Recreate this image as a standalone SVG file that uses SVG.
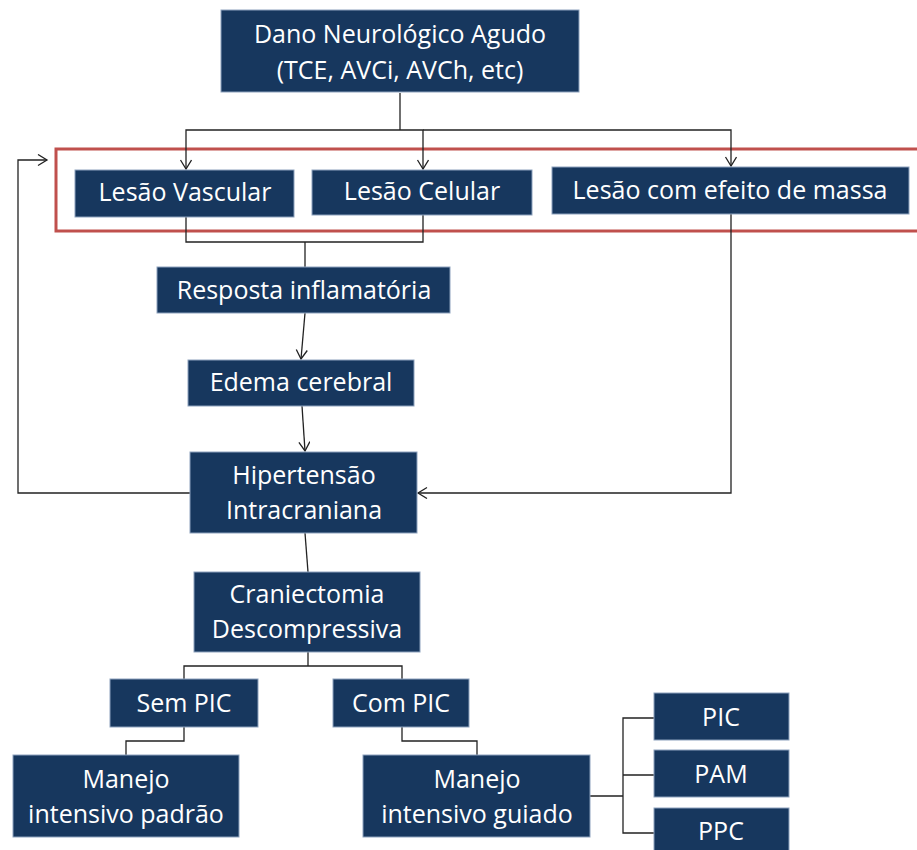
<svg xmlns="http://www.w3.org/2000/svg" width="917" height="850" viewBox="0 0 917 850">
<style>
.box{fill:#17375e;stroke:#8da2bd;stroke-width:1}
.t{font-family:"Open Sans","Liberation Sans",sans-serif;font-size:25px;fill:#ffffff;text-anchor:middle}
.c{fill:none;stroke:#222;stroke-width:1.3}
</style>
<defs>
<marker id="a" markerUnits="userSpaceOnUse" markerWidth="14" markerHeight="14" refX="10" refY="6" orient="auto">
<path d="M1,0.5 L10,6 L1,11.5" fill="none" stroke="#222" stroke-width="1.3"/>
</marker>
</defs>
<rect x="56" y="149" width="870" height="82" fill="none" stroke="#c0504d" stroke-width="3"/>
<g id="connectors">
<path class="c" d="M400,93 V130"/>
<path class="c" d="M400,130 H186 V169" marker-end="url(#a)"/>
<path class="c" d="M400,130 H423 V169" marker-end="url(#a)"/>
<path class="c" d="M423,130 H731 V166" marker-end="url(#a)"/>
<path class="c" d="M186,217 V242 H423 V215"/>
<path class="c" d="M305,242 V267"/>
<path class="c" d="M305,313 L301,359" marker-end="url(#a)"/>
<path class="c" d="M302,406 L305,451" marker-end="url(#a)"/>
<path class="c" d="M190,493 H18 V160 H47" marker-end="url(#a)"/>
<path class="c" d="M731,214 V493 H418" marker-end="url(#a)"/>
<path class="c" d="M305,533 L308,572"/>
<path class="c" d="M308,652 V666 M184,679 V666 H402 V679"/>
<path class="c" d="M184,727 V741 H126 V755"/>
<path class="c" d="M402,727 V741 H477 V755"/>
<path class="c" d="M590,796 H623 M654,718 H623 V833 H654 M623,775 H654"/>
</g>
<g id="n1"><rect class="box" x="221" y="10" width="358" height="82"/><text class="t" x="400" y="43">Dano Neurológico Agudo</text><text class="t" x="400" y="79">(TCE, AVCi, AVCh, etc)</text></g>
<g id="n2"><rect class="box" x="75" y="170" width="219" height="47"/><text class="t" x="185" y="201">Lesão Vascular</text></g>
<g id="n3"><rect class="box" x="312" y="170" width="220" height="45"/><text class="t" x="422" y="200">Lesão Celular</text></g>
<g id="n4"><rect class="box" x="552" y="167" width="357" height="47"/><text class="t" x="730" y="199">Lesão com efeito de massa</text></g>
<g id="n5"><rect class="box" x="157" y="267" width="293" height="46"/><text class="t" x="304" y="299">Resposta inflamatória</text></g>
<g id="n6"><rect class="box" x="188" y="360" width="226" height="46"/><text class="t" x="301" y="391">Edema cerebral</text></g>
<g id="n7"><rect class="box" x="190" y="452" width="227" height="81"/><text class="t" x="304" y="484">Hipertensão</text><text class="t" x="304" y="519">Intracraniana</text></g>
<g id="n8"><rect class="box" x="194" y="572" width="226" height="80"/><text class="t" x="307" y="603">Craniectomia</text><text class="t" x="307" y="638">Descompressiva</text></g>
<g id="n9"><rect class="box" x="110" y="679" width="148" height="48"/><text class="t" x="184" y="712">Sem PIC</text></g>
<g id="n10"><rect class="box" x="333" y="679" width="136" height="48"/><text class="t" x="401" y="712">Com PIC</text></g>
<g id="n11"><rect class="box" x="13" y="755" width="226" height="82"/><text class="t" x="126" y="788">Manejo</text><text class="t" x="126" y="823">intensivo padrão</text></g>
<g id="n12"><rect class="box" x="363" y="755" width="227" height="82"/><text class="t" x="477" y="788">Manejo</text><text class="t" x="477" y="823">intensivo guiado</text></g>
<g id="n13"><rect class="box" x="654" y="693" width="135" height="47"/><text class="t" x="721" y="726">PIC</text></g>
<g id="n14"><rect class="box" x="654" y="750" width="135" height="47"/><text class="t" x="721" y="783">PAM</text></g>
<g id="n15"><rect class="box" x="654" y="808" width="135" height="50"/><text class="t" x="721" y="840">PPC</text></g>
</svg>
